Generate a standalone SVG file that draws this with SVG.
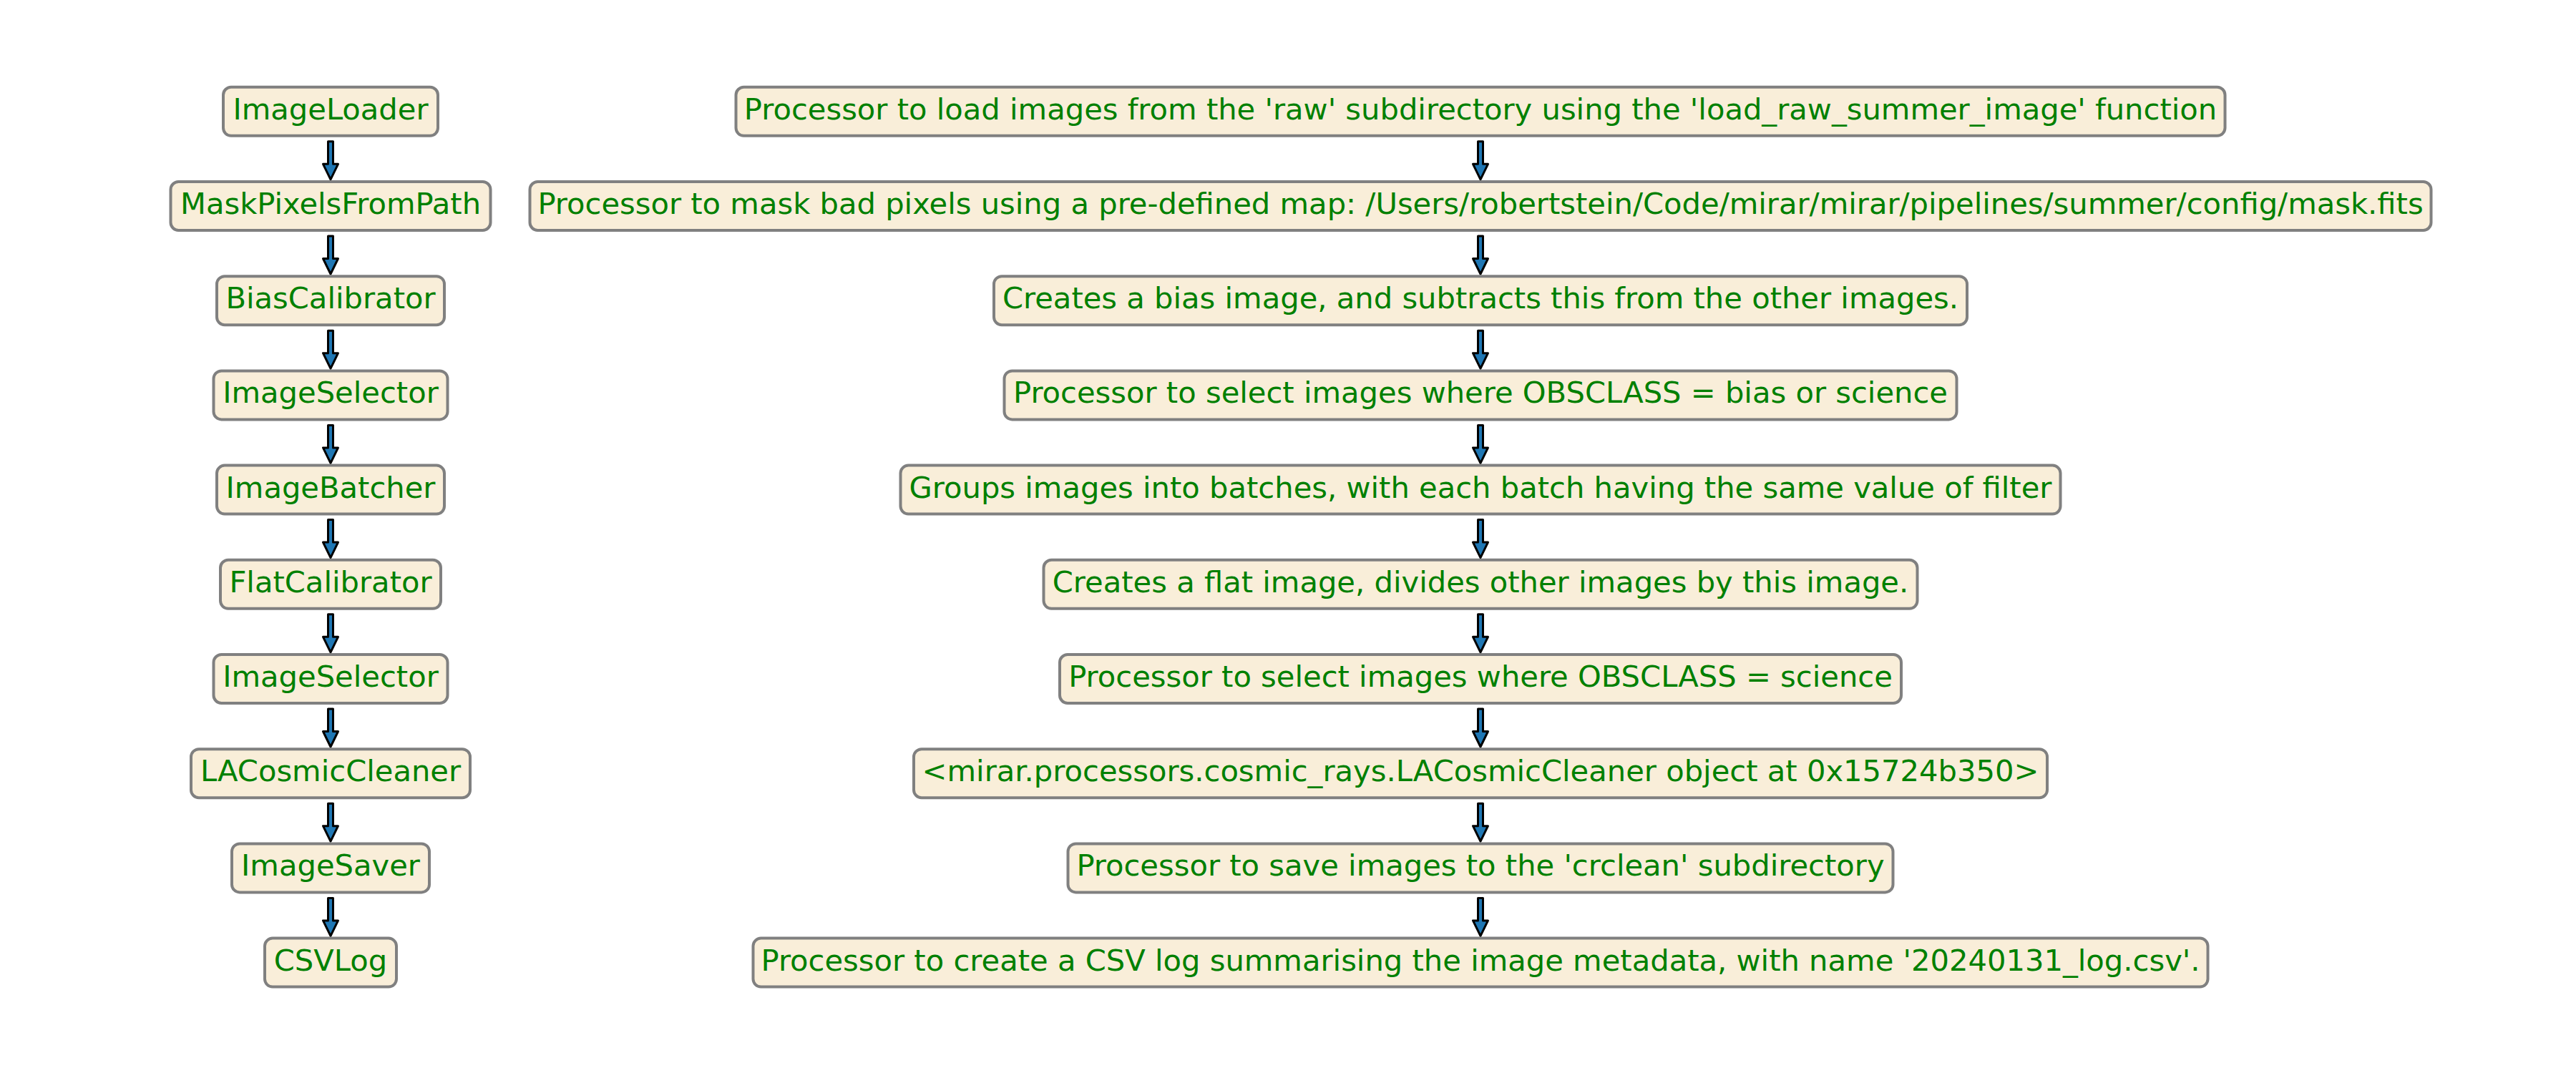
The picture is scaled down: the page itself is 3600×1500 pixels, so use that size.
<svg xmlns="http://www.w3.org/2000/svg" width="3600" height="1500" viewBox="0 0 3600 1500">
<style>
.box{fill:#f9eed9;stroke:#808080;stroke-width:4}
.lbl{font-family:"DejaVu Sans",sans-serif;font-size:41.67px;fill:#008000;text-anchor:middle}
.arr{fill:#1f77b4;stroke:#000;stroke-width:3;stroke-linejoin:round}
</style>
<defs>
<path id="arr" class="arr" d="M-3.5,42 L3.5,42 L3.5,73.5 L10.5,73.5 L0,95 L-10.5,73.5 L-3.5,73.5 Z"/>
</defs>
<rect width="3600" height="1500" fill="#fff"/>
<g id="connectors">
<use href="#arr" x="462" y="155.8"/>
<use href="#arr" x="462" y="288"/>
<use href="#arr" x="462" y="420.2"/>
<use href="#arr" x="462" y="552.4"/>
<use href="#arr" x="462" y="684.6"/>
<use href="#arr" x="462" y="816.8"/>
<use href="#arr" x="462" y="949"/>
<use href="#arr" x="462" y="1081.2"/>
<use href="#arr" x="462" y="1213.4"/>
<use href="#arr" x="2069" y="155.8"/>
<use href="#arr" x="2069" y="288"/>
<use href="#arr" x="2069" y="420.2"/>
<use href="#arr" x="2069" y="552.4"/>
<use href="#arr" x="2069" y="684.6"/>
<use href="#arr" x="2069" y="816.8"/>
<use href="#arr" x="2069" y="949"/>
<use href="#arr" x="2069" y="1081.2"/>
<use href="#arr" x="2069" y="1213.4"/>
</g>
<g id="n1"><rect class="box" x="312" y="121.8" width="300" height="68" rx="11"/><text class="lbl" x="462" y="166.8">ImageLoader</text></g>
<g id="n2"><rect class="box" x="238.5" y="254" width="447" height="68" rx="11"/><text class="lbl" x="462" y="299">MaskPixelsFromPath</text></g>
<g id="n3"><rect class="box" x="303" y="386.2" width="318" height="68" rx="11"/><text class="lbl" x="462" y="431.2">BiasCalibrator</text></g>
<g id="n4"><rect class="box" x="298.5" y="518.4" width="327" height="68" rx="11"/><text class="lbl" x="462" y="563.4">ImageSelector</text></g>
<g id="n5"><rect class="box" x="303" y="650.6" width="318" height="68" rx="11"/><text class="lbl" x="462" y="695.6">ImageBatcher</text></g>
<g id="n6"><rect class="box" x="308" y="782.8" width="308" height="68" rx="11"/><text class="lbl" x="462" y="827.8">FlatCalibrator</text></g>
<g id="n7"><rect class="box" x="298.5" y="915" width="327" height="68" rx="11"/><text class="lbl" x="462" y="960">ImageSelector</text></g>
<g id="n8"><rect class="box" x="267" y="1047.2" width="390" height="68" rx="11"/><text class="lbl" x="462" y="1092.2">LACosmicCleaner</text></g>
<g id="n9"><rect class="box" x="324" y="1179.4" width="276" height="68" rx="11"/><text class="lbl" x="462" y="1224.4">ImageSaver</text></g>
<g id="n10"><rect class="box" x="370" y="1311.6" width="184" height="68" rx="11"/><text class="lbl" x="462" y="1356.6">CSVLog</text></g>
<g id="d1"><rect class="box" x="1028.5" y="121.8" width="2081" height="68" rx="11"/><text class="lbl" x="2069" y="166.8">Processor to load images from the 'raw' subdirectory using the 'load_raw_summer_image' function</text></g>
<g id="d2"><rect class="box" x="740.5" y="254" width="2657" height="68" rx="11"/><text class="lbl" x="2069" y="299">Processor to mask bad pixels using a pre-defined map: /Users/robertstein/Code/mirar/mirar/pipelines/summer/config/mask.fits</text></g>
<g id="d3"><rect class="box" x="1389" y="386.2" width="1360" height="68" rx="11"/><text class="lbl" x="2069" y="431.2">Creates a bias image, and subtracts this from the other images.</text></g>
<g id="d4"><rect class="box" x="1403.5" y="518.4" width="1331" height="68" rx="11"/><text class="lbl" x="2069" y="563.4">Processor to select images where OBSCLASS = bias or science</text></g>
<g id="d5"><rect class="box" x="1258.5" y="650.6" width="1621" height="68" rx="11"/><text class="lbl" x="2069" y="695.6">Groups images into batches, with each batch having the same value of filter</text></g>
<g id="d6"><rect class="box" x="1458.5" y="782.8" width="1221" height="68" rx="11"/><text class="lbl" x="2069" y="827.8">Creates a flat image, divides other images by this image.</text></g>
<g id="d7"><rect class="box" x="1481" y="915" width="1176" height="68" rx="11"/><text class="lbl" x="2069" y="960">Processor to select images where OBSCLASS = science</text></g>
<g id="d8"><rect class="box" x="1277" y="1047.2" width="1584" height="68" rx="11"/><text class="lbl" x="2069" y="1092.2">&lt;mirar.processors.cosmic_rays.LACosmicCleaner object at 0x15724b350&gt;</text></g>
<g id="d9"><rect class="box" x="1492.5" y="1179.4" width="1153" height="68" rx="11"/><text class="lbl" x="2069" y="1224.4">Processor to save images to the 'crclean' subdirectory</text></g>
<g id="d10"><rect class="box" x="1052.5" y="1311.6" width="2033" height="68" rx="11"/><text class="lbl" x="2069" y="1356.6">Processor to create a CSV log summarising the image metadata, with name '20240131_log.csv'.</text></g>
</svg>
